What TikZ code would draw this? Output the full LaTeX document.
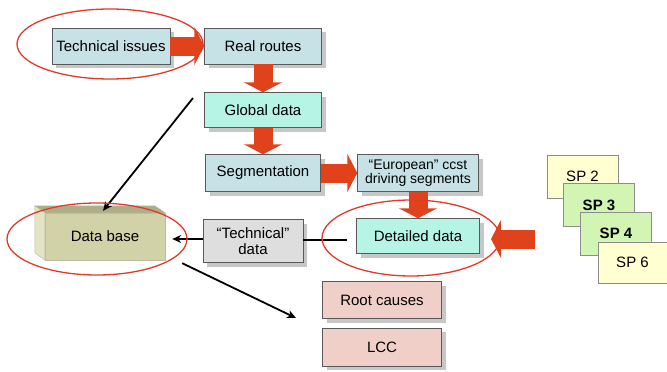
\documentclass[tikz,border=0pt]{standalone}
\usepackage{fontspec}
\setmainfont{Liberation Sans}
\usepackage{tikz}
\usetikzlibrary{shapes,arrows.meta,shadows}
\definecolor{boxblue}{HTML}{C6E2E6}
\definecolor{boxaqua}{HTML}{B6F5E6}
\definecolor{boxgrey}{HTML}{DEDEDE}
\definecolor{boxpink}{HTML}{F0CFC8}
\definecolor{spyellow}{HTML}{FFFFD2}
\definecolor{spgreen}{HTML}{D2F5B4}
\definecolor{dbfront}{HTML}{D2D2A8}
\definecolor{dbtop}{HTML}{ADAD88}
\definecolor{dbside}{HTML}{E4E4C4}
\definecolor{arrowred}{HTML}{E0431C}
\definecolor{ringred}{HTML}{E23A2A}
\tikzstyle{block} = [rectangle, draw=black!65, fill=boxblue, text centered,
    inner sep=0pt, font=\fontsize{15}{16}\selectfont,
    drop shadow={shadow xshift=4pt, shadow yshift=-4pt, fill=black!22, opacity=1}]
\tikzstyle{spcard} = [rectangle, draw=black!45, fill=spyellow, text centered,
    inner sep=0pt, minimum width=71pt, minimum height=43pt,
    font=\fontsize{15}{16}\selectfont]
\tikzstyle{bigarrow} = [draw=arrowred, line width=19pt, -{Triangle[width=38pt, length=10pt]}]
\tikzstyle{line} = [draw, line width=1.8pt, -{Stealth[length=9pt, width=8pt]}]
\tikzstyle{ring} = [draw=ringred, line width=1.3pt]

\begin{document}
\begin{tikzpicture}[x=1pt, y=-1pt]
    \useasboundingbox (0,0) rectangle (667,372);
    % Place nodes
    \node [block, minimum width=118pt, minimum height=36pt] (issues) at (111,46) {Technical issues};
    \node [block, minimum width=117pt, minimum height=36pt] (routes) at (263,46) {Real routes};
    \node [block, fill=boxaqua, minimum width=117pt, minimum height=35pt] (global) at (263,110) {Global data};
    \node [block, minimum width=115pt, minimum height=37pt] (segment) at (263,173) {Segmentation};
    \node [block, minimum width=121pt, minimum height=37pt, align=center,
        font=\fontsize{14}{14.5}\selectfont] (european) at (418,173) {“European” ccst\\driving segments};
    \node [block, fill=boxaqua, minimum width=123pt, minimum height=35pt] (detailed) at (418,236) {Detailed data};
    \node [block, fill=boxgrey, minimum width=100pt, minimum height=43pt, align=center] (techdata) at (253,241) {“Technical”\\data};
    \node [block, fill=boxpink, minimum width=119pt, minimum height=37pt] (causes) at (382,300) {Root causes};
    \node [block, fill=boxpink, minimum width=119pt, minimum height=38pt] (lcc) at (382,347) {LCC};
    % data base box
    \node [rectangle, fill=dbfront, draw=dbtop!80, minimum width=120pt, minimum height=47pt,
        inner sep=0pt, font=\fontsize{15}{16}\selectfont] (database) at (105,236.5) {Data base};
    \filldraw [fill=dbtop, draw=dbtop!80] (database.north west) -- ++(-10,-7) -- ++(120,0) -- (database.north east) -- cycle;
    \filldraw [fill=dbside, draw=dbtop!80] (database.north west) -- ++(-10,-7) -- ++(0,47) -- (database.south west) -- cycle;
    % SP cards
    \node [spcard] (sp2) at (582.5,176.5) {SP 2};
    \node [spcard, fill=spgreen, font=\fontsize{15}{16}\selectfont\bfseries] (sp3) at (599,205) {SP 3};
    \node [spcard, fill=spgreen, font=\fontsize{15}{16}\selectfont\bfseries] (sp4) at (616,233.5) {SP 4};
    \node [spcard, minimum width=69pt, minimum height=41pt] (sp6) at (632.5,262.5) {SP 6};
    % free ends
    \coordinate (rightin) at (535,239);
    \coordinate (rightend) at (491,239);
    \coordinate (globalout) at (193,98);
    \coordinate (causesin) at (296,318);
    \coordinate (detailout) at (347,240);
    % Draw edges
    \path [bigarrow] (issues) -- (routes);
    \path [bigarrow] (routes) -- (global);
    \path [bigarrow] (global) -- (segment);
    \path [bigarrow] (segment) -- (european);
    \path [bigarrow] (european) -- (detailed);
    \path [bigarrow] (rightin) -- (rightend);
    \path [line] (globalout) -- ([xshift=-2pt,yshift=2pt]database.north);
    \path [line] (techdata.west |- 0,239) -- ([xshift=7pt]database.east |- 0,239);
    \path [line] ([xshift=17pt,yshift=-3pt]database.south east) -- (causesin);
    \draw [line width=1.8pt] (detailout) -- (techdata.east |- detailout);
    % red rings
    \draw [ring] ([xshift=-1pt,yshift=2pt]issues.center) ellipse (93pt and 35pt);
    \draw [ring] ([xshift=-8pt,yshift=-2.5pt]database.center) ellipse (90pt and 36pt);
    \draw [ring] ([xshift=-7pt,yshift=-2pt]detailed.center) ellipse (89pt and 38pt);
\end{tikzpicture}
\end{document}
